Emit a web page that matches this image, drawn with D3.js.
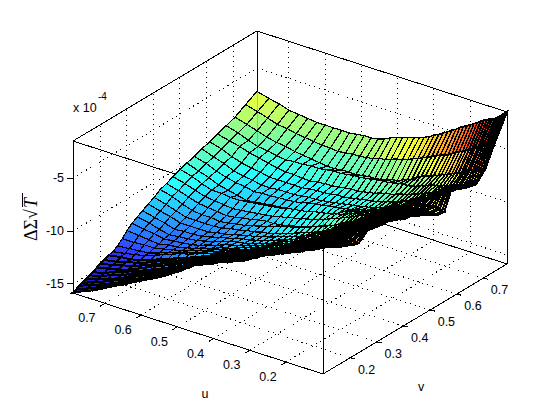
<!DOCTYPE html>
<html>
<head>
<meta charset="utf-8">
<script src="https://cdnjs.cloudflare.com/ajax/libs/d3/7.8.5/d3.min.js"></script>
<style>
  html, body { margin: 0; padding: 0; background: #fff; }
  text { font-family: "Liberation Sans", Arial, sans-serif; font-size: 12.5px; fill: #000; }
</style>
</head>
<body>
<svg id="chart" width="560" height="420"></svg>
<script>
const uTicks = [0.2, 0.3, 0.4, 0.5, 0.6, 0.7];
const vTicks = [0.2, 0.3, 0.4, 0.5, 0.6, 0.7];
const zTicks = [-5, -10, -15];

// mesh positions, they get denser towards the low end
const uGrid = [0.098,0.104,0.111,0.117,0.124,0.131,0.139,0.146,0.154,0.162,0.171,0.180,0.189,0.198,0.208,0.218,0.228,0.239,0.250,0.262,0.274,0.286,0.299,0.312,0.326,0.340,0.355,0.370,0.386,0.402,0.419,0.436,0.454,0.473,0.492,0.512,0.533,0.554,0.577,0.600,0.623,0.648,0.673,0.700,0.727,0.755,0.788];
const vGrid = [0.098,0.109,0.121,0.133,0.146,0.159,0.172,0.187,0.201,0.216,0.232,0.248,0.265,0.283,0.301,0.320,0.340,0.360,0.381,0.403,0.426,0.450,0.474,0.500,0.526,0.554,0.582,0.612,0.642,0.674,0.707,0.747,0.790];

// height of the surface below zero in units of 1e-5, one row per vGrid value, one column per uGrid value
const depthRows = [
[39,40,41,43,44,45,46,47,49,50,51,52,54,55,57,58,60,62,63,65,67,70,72,75,77,79,81,83,85,88,90,93,95,100,105,109,114,118,122,126,130,135,139,144,149,153,158],
[40,41,42,44,45,46,47,48,49,50,51,53,54,56,57,59,61,63,64,66,68,71,73,76,78,80,82,84,86,89,91,94,96,101,105,110,114,118,122,126,130,134,139,143,148,152,157],
[42,43,44,44,45,46,47,48,50,51,52,53,55,56,58,59,61,63,65,67,69,71,74,76,78,80,83,85,87,90,92,95,97,101,106,110,114,118,122,126,130,134,139,143,147,151,155],
[44,45,45,46,46,47,48,49,50,51,52,54,55,57,58,60,62,64,65,67,69,72,74,77,79,81,84,86,88,90,93,95,97,101,106,110,114,118,122,125,129,133,138,142,146,150,154],
[46,46,47,47,48,48,49,50,51,52,53,55,56,58,59,61,63,65,66,68,70,73,75,78,80,82,85,87,89,91,94,96,98,102,107,111,115,119,122,126,129,133,138,142,146,149,153],
[48,48,48,49,49,49,50,51,52,53,54,55,57,58,60,61,63,65,67,69,71,74,76,79,81,83,86,88,90,92,95,97,99,103,107,111,115,119,122,126,129,133,137,141,144,148,151],
[49,49,49,50,50,50,51,52,52,53,54,56,57,59,60,62,64,66,68,70,72,75,77,80,82,84,87,89,91,93,96,98,100,104,108,111,115,119,122,126,129,133,136,140,143,147,150],
[51,51,51,51,51,51,52,53,53,54,55,57,58,60,61,63,65,67,69,71,73,76,78,81,83,85,88,90,92,94,97,99,101,105,108,112,115,118,122,125,128,132,136,140,143,145,148],
[52,52,52,52,52,52,53,53,54,54,55,57,59,60,62,64,66,68,70,72,74,77,79,82,84,86,89,91,93,95,98,100,102,105,109,112,115,118,122,125,128,132,135,139,141,144,146],
[54,54,54,53,53,53,54,54,55,55,56,58,59,61,62,64,66,68,71,73,75,78,80,83,85,87,90,92,94,96,99,101,103,106,109,112,115,118,122,125,128,131,135,138,140,143,145],
[55,55,54,54,53,53,54,55,55,56,57,59,60,62,63,65,67,69,72,74,76,79,81,84,86,88,91,93,95,97,100,102,104,107,110,113,116,119,122,125,128,131,135,138,140,141,143],
[52,52,52,53,53,53,54,55,55,56,57,59,61,62,64,66,68,70,73,75,77,80,82,85,87,89,92,94,96,98,101,103,105,108,110,113,115,118,121,123,126,129,133,136,138,140,142],
[48,49,50,50,51,52,53,54,56,57,58,60,62,63,65,67,69,71,74,76,78,81,83,86,88,91,93,96,98,100,102,104,106,109,111,114,116,119,122,124,127,130,133,136,137,138,139],
[49,50,51,51,52,53,54,55,57,58,59,61,63,65,67,69,71,73,76,78,80,83,85,88,90,92,95,97,99,101,103,106,108,110,113,115,117,120,123,125,128,130,132,134,134,135,135],
[50,51,52,52,53,54,55,56,58,59,60,62,64,66,68,70,72,74,77,79,81,84,86,89,91,93,96,98,100,102,105,107,109,111,114,116,118,121,123,126,128,130,131,133,132,131,130],
[51,52,53,53,54,55,56,57,58,59,60,62,64,66,68,70,72,75,77,80,82,85,87,90,92,94,97,99,101,103,106,108,110,112,114,116,118,121,123,126,128,129,130,131,129,128,126],
[51,52,53,53,54,55,56,57,59,60,61,63,65,67,69,71,73,76,78,81,83,86,88,91,93,95,98,100,102,104,107,109,111,113,115,116,118,120,123,125,127,128,129,130,128,125,123],
[53,54,54,55,55,56,57,58,60,61,62,64,66,68,70,72,74,76,79,81,83,86,88,91,93,96,98,101,103,105,107,109,111,113,115,116,118,120,122,124,126,127,127,128,125,123,120],
[55,56,56,57,57,58,59,60,61,62,63,65,67,69,71,73,75,77,80,82,84,87,89,92,94,96,99,101,103,105,107,109,111,113,115,116,118,120,122,123,125,125,125,125,122,120,117],
[58,58,58,59,59,59,60,61,62,63,64,66,68,69,71,73,75,77,80,82,84,87,90,92,95,97,99,101,103,105,107,109,111,113,114,116,117,119,120,122,123,123,123,123,120,117,114],
[59,59,59,60,60,60,61,62,63,64,65,67,68,70,71,73,75,77,80,82,84,86,89,91,93,95,97,99,101,103,105,106,108,110,112,114,116,118,119,121,122,121,121,120,117,113,110],
[62,62,62,62,62,62,63,64,64,65,66,68,69,71,72,74,77,80,82,85,87,89,92,94,96,98,100,102,104,106,108,109,111,112,113,113,114,116,117,119,120,119,118,117,114,111,108],
[65,65,65,64,64,64,65,66,66,67,68,69,70,72,73,75,77,79,81,83,85,87,89,91,93,95,97,99,101,103,104,106,107,109,110,112,113,114,115,116,117,116,115,114,111,108,105],
[69,69,69,68,68,68,68,69,69,70,70,71,73,74,76,77,79,80,82,83,85,87,89,91,93,95,96,98,99,100,101,103,104,105,106,108,109,110,111,112,113,113,112,112,109,105,102],
[73,73,72,72,71,71,71,72,72,73,73,74,76,77,79,80,82,83,85,86,88,90,91,93,94,96,98,101,103,105,106,108,109,110,111,112,113,114,115,116,117,115,113,111,107,104,100],
[74,74,73,73,72,72,72,73,73,74,74,76,78,79,81,83,85,86,88,89,91,93,94,96,97,98,100,101,102,103,104,105,106,107,109,110,111,111,112,112,113,111,110,108,105,101,98],
[56,58,60,61,63,65,67,69,70,72,74,76,78,80,82,84,86,88,89,91,93,95,96,98,99,100,101,102,103,104,105,106,107,108,108,109,110,110,110,111,111,109,108,106,102,99,95],
[61,62,63,65,66,67,69,70,72,73,75,77,79,80,82,84,86,88,89,91,93,94,95,97,98,99,100,101,102,103,104,104,105,106,106,107,108,108,108,108,108,106,105,103,100,96,93],
[64,65,66,66,67,68,69,71,72,74,75,77,78,80,81,83,84,86,87,89,90,91,93,94,95,96,98,99,100,101,101,102,103,104,104,105,106,106,105,105,104,102,100,98,95,93,90],
[66,67,68,68,69,70,71,72,73,74,75,76,77,78,79,80,81,83,84,86,87,88,88,89,90,91,91,92,93,94,95,95,96,97,97,98,99,99,100,100,101,100,98,97,94,90,87],
[57,58,59,59,60,61,62,64,65,67,68,69,71,72,74,75,77,78,80,81,83,85,88,90,92,94,95,97,98,99,99,100,101,101,101,102,102,101,100,99,98,96,95,93,90,87,84],
[36,37,39,40,42,43,45,47,48,50,52,54,56,57,59,61,63,65,66,68,70,72,74,76,78,80,82,83,85,87,88,90,91,92,92,93,94,93,93,92,91,90,88,87,84,81,78],
[15,17,19,21,23,25,26,27,29,30,32,34,36,38,40,42,44,47,49,52,54,57,59,62,64,66,68,69,71,73,75,78,80,81,81,82,83,83,83,83,83,82,81,80,77,75,72]
];

const uFrac = d3.scaleLinear().domain([0.098, 0.788]).range([0, 1]);
const vFrac = d3.scaleLinear().domain([0.098, 0.79]).range([0, 1]);
const zLift = d3.scaleLinear().domain([-15.85, -1.5]).range([0, 152]);
const zFrac = d3.scaleLinear().domain([-15.85, -1.5]).range([0, 1]);

// jet, a little lighter than the stock one like the reference
const jet = d3
  .scaleLinear()
  .domain([0, 0.125, 0.25, 0.375, 0.5, 0.625, 0.75, 0.875, 1])
  .range(['#1414b4', '#3232ff', '#2896ff', '#28ffff', '#82ff96', '#f0ff3c', '#ffaa28', '#ff3c14', '#aa140a']);

// view of the box: near floor corner is at (323,374)
const project = (u, v, z) => [
  323 - 250 * uFrac(u) + 184 * vFrac(v),
  374 - 81 * uFrac(u) - 110 * vFrac(v) - zLift(z)
];

const uMin = uFrac.domain()[0], uMax = uFrac.domain()[1];
const vMin = vFrac.domain()[0], vMax = vFrac.domain()[1];
const zMin = zLift.domain()[0], zMax = zLift.domain()[1];

const svg = d3.select('#chart');

const drawLine = (g, a, b) =>
  g.append('line')
    .attr('x1', a[0]).attr('y1', a[1])
    .attr('x2', b[0]).attr('y2', b[1])
    .attr('stroke', '#000')
    .attr('shape-rendering', 'crispEdges');

// dotted grid on the floor and the two back walls
const grid = svg.append('g').attr('id', 'grid');
const dotted = (a, b) => drawLine(grid, a, b).attr('stroke-dasharray', '1,4');
uTicks.forEach(u => {
  dotted(project(u, vMin, zMin), project(u, vMax, zMin));
  dotted(project(u, vMax, zMin), project(u, vMax, zMax));
});
vTicks.forEach(v => {
  dotted(project(uMin, v, zMin), project(uMax, v, zMin));
  dotted(project(uMax, v, zMin), project(uMax, v, zMax));
});
zTicks.forEach(z => {
  dotted(project(uMax, vMin, z), project(uMax, vMax, z));
  dotted(project(uMax, vMax, z), project(uMin, vMax, z));
});

// box edges that sit behind the surface
const box = svg.append('g').attr('id', 'box');
[
  [[uMin, vMin, zMin], [uMax, vMin, zMin]],
  [[uMin, vMin, zMin], [uMin, vMax, zMin]],
  [[uMax, vMin, zMin], [uMax, vMax, zMin]],
  [[uMax, vMax, zMin], [uMin, vMax, zMin]],
  [[uMax, vMin, zMax], [uMax, vMax, zMax]],
  [[uMax, vMax, zMax], [uMin, vMax, zMax]],
  [[uMax, vMin, zMax], [uMin, vMin, zMax]],
  [[uMin, vMin, zMax], [uMin, vMax, zMax]],
  [[uMax, vMin, zMin], [uMax, vMin, zMax]],
  [[uMin, vMax, zMin], [uMin, vMax, zMax]],
  [[uMax, vMax, zMin], [uMax, vMax, zMax]]
].forEach(e => drawLine(box, project(...e[0]), project(...e[1])));

// surface, far cells first
const cells = [];
for (let r = vGrid.length - 2; r >= 0; r--) {
  for (let c = uGrid.length - 2; c >= 0; c--) {
    cells.push({ r, c });
  }
}
const height = (r, c) => -depthRows[r][c] / 10;
// the real mesh is finer than this one at the low ends and closes up to black there
const meshWidth = d => (d.c < 10 || d.r < 10 ? 2 : d.c < 22 ? 1.5 : 1.2);
const surface = svg.append('g').attr('id', 'surface');
surface
  .selectAll('path')
  .data(cells)
  .enter()
  .append('path')
  .attr('d', d => {
    const pts = [[d.r, d.c], [d.r, d.c + 1], [d.r + 1, d.c + 1], [d.r + 1, d.c]]
      .map(p => project(uGrid[p[1]], vGrid[p[0]], height(p[0], p[1])));
    return 'M' + pts.join('L') + 'Z';
  })
  .attr('fill', d => jet(zFrac(height(d.r + 1, d.c + 1))))
  .attr('stroke', '#000')
  .attr('stroke-width', meshWidth)
  .attr('shape-rendering', 'crispEdges');

// edges that show over the surface
const over = svg.append('g').attr('id', 'over');
drawLine(over, project(uMax, vMax, -7.2), project(uMax, vMax, zMin)).attr('stroke-opacity', 0.18);
drawLine(over, project(uMin, vMin, zMin), project(uMin, vMin, zMax)).attr('stroke-opacity', 0.35);
drawLine(over, project(uMin, vMin, zMin), project(uMin, vMin, -3.9));

// ticks and tick labels
const axes = svg.append('g').attr('id', 'axes');
uTicks.forEach(u => {
  const p = project(u, vMin, zMin);
  drawLine(axes, p, [p[0] - 5, p[1] + 3]);
  axes.append('text').attr('x', p[0] - 18).attr('y', p[1] + 19).attr('text-anchor', 'middle').text(u.toFixed(1));
});
vTicks.forEach(v => {
  const p = project(uMin, v, zMin);
  drawLine(axes, p, [p[0] + 5, p[1] + 1]);
  axes.append('text').attr('x', p[0] + 16.5).attr('y', p[1] + 16).attr('text-anchor', 'middle').text(v.toFixed(1));
});
zTicks.forEach(z => {
  const p = project(uMax, vMin, z);
  drawLine(axes, p, [p[0] - 6, p[1]]);
  axes.append('text').attr('x', 64).attr('y', p[1] + 4).attr('text-anchor', 'end').text(z);
});

// exponent and axis labels
axes.append('text').attr('x', 73).attr('y', 112).text('x 10');
axes.append('text').attr('x', 98).attr('y', 100).style('font-size', '10px').text('-4');
axes.append('text').attr('x', 205).attr('y', 398).attr('text-anchor', 'middle').text('u');
axes.append('text').attr('x', 421).attr('y', 391).attr('text-anchor', 'middle').text('v');

const yLabel = axes.append('g').attr('transform', 'translate(37,241) rotate(-90)');
yLabel.append('text')
  .style('font-family', '"Liberation Serif", serif')
  .style('font-size', '18px')
  .text('ΔΣ√')
  .append('tspan')
  .style('font-style', 'italic')
  .attr('dx', 1)
  .text('T');
yLabel.append('line')
  .attr('x1', 34).attr('x2', 48)
  .attr('y1', -15).attr('y2', -15)
  .attr('stroke', '#000')
  .attr('shape-rendering', 'crispEdges');
</script>
</body>
</html>
